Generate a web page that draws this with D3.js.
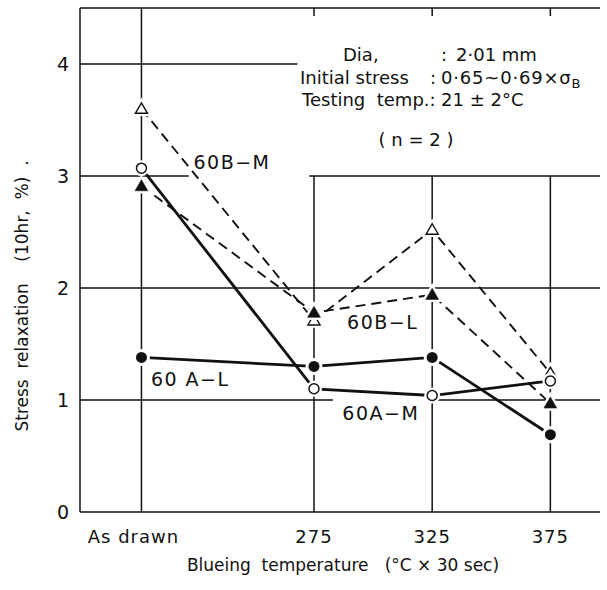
<!DOCTYPE html>
<html>
<head>
<meta charset="utf-8">
<script src="https://cdn.jsdelivr.net/npm/d3@7"></script>
<style>
  body { margin: 0; background: #fff; }
  svg text { font-family: "DejaVu Sans", "Noto Sans", sans-serif; fill: #111; white-space: pre; }
</style>
</head>
<body>
<div id="chart"></div>
<script>
// data
const categories = ['As drawn', '275', '325', '375'];
const xPositions = [202, 275, 325, 375];   // blueing temp, "As drawn" sits left of 275
const values60BM = [3.60, 1.71, 2.52, 1.24];
const values60BL = [2.91, 1.78, 1.94, 0.97];
const values60AM = [3.07, 1.10, 1.04, 1.17];
const values60AL = [1.38, 1.30, 1.38, 0.69];
const yTicks = [0, 1, 2, 3, 4];

const width = 607;
const height = 590;

const series = [
  { name: '60B−M', values: values60BM, dashed: true, shape: 'triangle', filled: false, label: [224, 3.12] },
  { name: '60B−L', values: values60BL, dashed: true, shape: 'triangle', filled: true, label: [289, 1.69] },
  { name: '60A−M', values: values60AM, dashed: false, shape: 'circle', filled: false, label: [287, 0.88] },
  { name: '60 A−L', values: values60AL, dashed: false, shape: 'circle', filled: true, label: [206, 1.18] },
];

const x = d3.scaleLinear().domain([176, 396]).range([80, 600]);
const y = d3.scaleLinear().domain([0, 4.5]).range([512, 8]);

const svg = d3.select('#chart').append('svg')
  .attr('width', width)
  .attr('height', height);

const ink = '#111';

// grid pieces (the original leaves gaps where labels sit)
const hGrid = [
  { v: 4, from: 176, to: 268 },
  { v: 3, from: 176, to: 222 },
  { v: 3, from: 273, to: 396 },
  { v: 2, from: 176, to: 396 },
  { v: 1, from: 176, to: 283 },
  { v: 1, from: 325, to: 396 },
];
const grid = svg.append('g').attr('stroke', ink).attr('stroke-width', 1.5);

grid.selectAll('line.h').data(hGrid).join('line')
  .attr('class', 'h')
  .attr('x1', d => x(d.from)).attr('x2', d => x(d.to))
  .attr('y1', d => y(d.v)).attr('y2', d => y(d.v));

// frame: top, bottom, left
grid.append('line').attr('x1', x(176)).attr('x2', x(396)).attr('y1', y(4.5)).attr('y2', y(4.5));
grid.append('line').attr('x1', x(176)).attr('x2', x(396)).attr('y1', y(0)).attr('y2', y(0));
grid.append('line').attr('x1', x(176)).attr('x2', x(176)).attr('y1', y(4.5)).attr('y2', y(0));

// verticals: "As drawn" runs full height, others start at 3
grid.selectAll('line.v').data(xPositions).join('line')
  .attr('class', 'v')
  .attr('x1', d => x(d)).attr('x2', d => x(d))
  .attr('y1', (d, i) => i === 0 ? y(4.5) : y(3))
  .attr('y2', y(0));

// short ticks hanging from the top frame
grid.selectAll('line.t').data(xPositions.slice(1)).join('line')
  .attr('class', 't')
  .attr('x1', d => x(d)).attr('x2', d => x(d))
  .attr('y1', y(4.5)).attr('y2', y(4.5) + 8);

// series lines
const line = d3.line()
  .x((d, i) => x(xPositions[i]))
  .y(d => y(d));

svg.append('g').selectAll('path').data(series).join('path')
  .attr('d', d => line(d.values))
  .attr('fill', 'none')
  .attr('stroke', ink)
  .attr('stroke-width', d => d.dashed ? 1.9 : 2.8)
  .attr('stroke-dasharray', d => d.dashed ? '10,6' : null);

// markers with a white halo so lines break at them
const tri = d3.symbol().type(d3.symbolTriangle);

series.forEach(s => {
  const g = svg.append('g');
  s.values.forEach((v, i) => {
    const cx = x(xPositions[i]);
    const cy = y(v);
    if (s.shape === 'circle') {
      const r = s.filled ? 5.5 : 5;
      g.append('circle').attr('cx', cx).attr('cy', cy).attr('r', r + 3).attr('fill', '#fff');
      g.append('circle').attr('cx', cx).attr('cy', cy).attr('r', r)
        .attr('fill', s.filled ? ink : '#fff')
        .attr('stroke', ink).attr('stroke-width', s.filled ? 0 : 1.5);
    } else {
      const size = s.filled ? 72 : 64;
      g.append('path').attr('d', tri.size(size + 50)())
        .attr('transform', `translate(${cx},${cy + 1})`)
        .attr('fill', '#fff').attr('stroke', '#fff').attr('stroke-width', 3);
      g.append('path').attr('d', tri.size(size)())
        .attr('transform', `translate(${cx},${cy + 1})`)
        .attr('fill', s.filled ? ink : '#fff')
        .attr('stroke', ink).attr('stroke-width', s.filled ? 0.5 : 1.4);
    }
  });
});

// series labels
svg.append('g').selectAll('text').data(series).join('text')
  .attr('x', d => x(d.label[0]))
  .attr('y', d => y(d.label[1]))
  .attr('dy', '0.35em')
  .attr('font-size', 19)
  .attr('letter-spacing', 1.5)
  .text(d => d.name);

// y tick labels
svg.append('g').selectAll('text').data(yTicks).join('text')
  .attr('x', 63)
  .attr('y', d => y(d))
  .attr('dy', '0.35em')
  .attr('text-anchor', 'middle')
  .attr('font-size', 19)
  .text(d => d);

// x tick labels
svg.append('g').selectAll('text').data(categories).join('text')
  .attr('x', (d, i) => x(xPositions[i]) - (i === 0 ? 8 : 0))
  .attr('y', 537)
  .attr('dy', '0.35em')
  .attr('text-anchor', 'middle')
  .attr('font-size', 18)
  .attr('letter-spacing', 1)
  .text(d => d);

// axis titles
svg.append('text')
  .attr('x', 343).attr('y', 565).attr('dy', '0.35em')
  .attr('text-anchor', 'middle')
  .attr('font-size', 17)
  .text('Blueing  temperature   (°C × 30 sec)');

svg.append('text')
  .attr('transform', 'translate(22,296) rotate(-90)')
  .attr('dy', '0.35em')
  .attr('text-anchor', 'middle')
  .attr('font-size', 17)
  .text('Stress  relaxation    (10hr,  %)  .');

// condition notes
const notes = svg.append('g').attr('font-size', 18);
notes.append('text').attr('x', 343).attr('y', 61).text('Dia,');
notes.append('text').attr('x', 441).attr('y', 61).text(':');
notes.append('text').attr('x', 456).attr('y', 61).text('2·01 mm');

notes.append('text').attr('x', 300).attr('y', 84).text('Initial stress');
notes.append('text').attr('x', 430).attr('y', 84).text(':');
const stress = notes.append('text').attr('x', 441).attr('y', 84).attr('letter-spacing', 0.8);
stress.append('tspan').text('0·65~0·69×σ');
stress.append('tspan').attr('font-size', 13).attr('dy', 4).text('B');

notes.append('text').attr('x', 302).attr('y', 106).text('Testing  temp.:');
notes.append('text').attr('x', 441).attr('y', 106).text('21 ± 2°C');

notes.append('text').attr('x', 416).attr('y', 140).attr('dy', '0.35em')
  .attr('text-anchor', 'middle').text('( n = 2 )');
</script>
</body>
</html>
